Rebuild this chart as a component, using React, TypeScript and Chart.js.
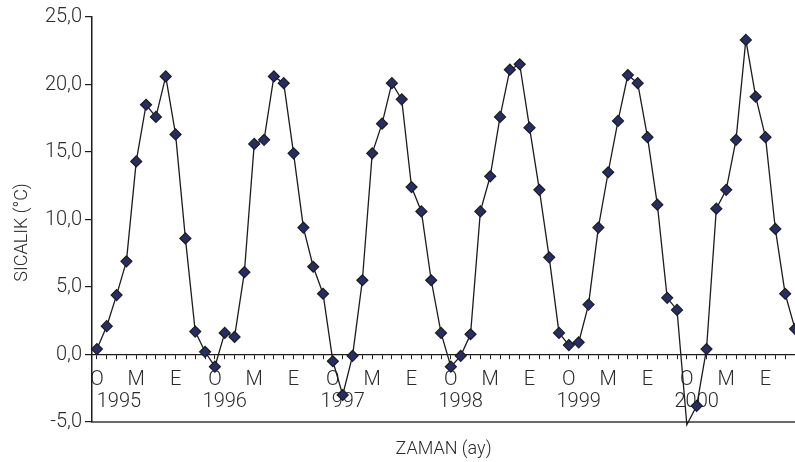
import { useEffect, useRef } from "react";
import { Chart, registerables } from "chart.js";

Chart.register(...registerables);

// Monthly mean temperatures (°C), January..December
const t1995 = [0.4, 2.1, 4.4, 6.9, 14.3, 18.5, 17.6, 20.6, 16.3, 8.6, 1.7, 0.2];
const t1996 = [-0.9, 1.6, 1.3, 6.1, 15.6, 15.9, 20.6, 20.1, 14.9, 9.4, 6.5, 4.5];
const t1997 = [-0.5, -3.0, -0.1, 5.5, 14.9, 17.1, 20.1, 18.9, 12.4, 10.6, 5.5, 1.6];
const t1998 = [-0.9, -0.1, 1.5, 10.6, 13.2, 17.6, 21.1, 21.5, 16.8, 12.2, 7.2, 1.6];
const t1999 = [0.7, 0.9, 3.7, 9.4, 13.5, 17.3, 20.7, 20.1, 16.1, 11.1, 4.2, 3.3];
const t2000 = [-5.2, -3.8, 0.4, 10.8, 12.2, 15.9, 23.3, 19.1, 16.1, 9.3, 4.5, 1.9];

const years = ["1995", "1996", "1997", "1998", "1999", "2000"];
const monthMarks = ["O", "", "", "", "M", "", "", "", "E", "", "", ""];
const yTicks = [-5, 0, 5, 10, 15, 20, 25];
const yTitle = "SICALIK (°C)";
const xTitle = "ZAMAN (ay)";

const temps = [...t1995, ...t1996, ...t1997, ...t1998, ...t1999, ...t2000];

const FONT = "Roboto";
const TEXT = "#2b2b2b";

export default function App() {
  const ref = useRef<HTMLCanvasElement | null>(null);

  useEffect(() => {
    if (!ref.current) return;
    const Y_MIN = yTicks[0];
    const Y_MAX = yTicks[yTicks.length - 1];
    const points = temps.map((v, i) => ({ x: i, y: v }));

    const yTitlePlugin = {
      id: "yTitlePlugin",
      afterDraw(chart: any) {
        const ctx = chart.ctx;
        const ca = chart.chartArea;
        ctx.save();
        ctx.translate(22, (ca.top + ca.bottom) / 2 + 13);
        ctx.rotate(-Math.PI / 2);
        ctx.font = `300 18px ${FONT}`;
        ctx.fillStyle = TEXT;
        ctx.textAlign = "center";
        ctx.textBaseline = "middle";
        ctx.fillText(yTitle, 0, 0);
        ctx.restore();
      },
    };

    const chart = new Chart(ref.current, {
      type: "line",
      data: {
        datasets: [
          {
            data: points,
            borderColor: "#1c1c1c",
            borderWidth: 1.3,
            tension: 0,
            clip: false as any,
            pointStyle: "rectRot",
            pointRadius: (c: any) => (c.raw && c.raw.y < Y_MIN ? 0 : 5.5),
            pointHoverRadius: 5.5,
            pointBackgroundColor: "#262d66",
            pointBorderColor: "#1c1c1c",
            pointBorderWidth: 1.2,
          },
        ],
      },
      options: {
        animation: false,
        responsive: false,
        devicePixelRatio: 1,
        layout: { autoPadding: false, padding: { top: 17, right: 0, left: 0, bottom: 0 } },
        plugins: {
          legend: { display: false },
          tooltip: { enabled: false },
          title: { display: false },
        },
        scales: {
          x: {
            type: "linear",
            position: "bottom",
            min: -0.5,
            max: temps.length - 1,
            ticks: { display: false },
            grid: { display: true, drawOnChartArea: false, drawTicks: false },
            border: { display: true, color: "#6a6a6a", width: 2 },
            title: {
              display: true,
              text: xTitle,
              color: TEXT,
              font: { family: FONT, size: 18, weight: "300" as any },
              padding: { top: 0, bottom: 2 },
            },
            afterFit: (s: any) => {
              s.height = 40;
            },
          },
          x2: {
            type: "linear",
            position: { y: 0 } as any,
            min: -0.5,
            max: temps.length - 1,
            afterBuildTicks: (s: any) => {
              s.ticks = temps.map((_, i) => ({ value: i }));
            },
            afterFit: (s: any) => {
              s.paddingLeft = 0;
              s.paddingRight = 0;
            },
            ticks: {
              autoSkip: false,
              maxRotation: 0,
              minRotation: 0,
              padding: 10,
              color: TEXT,
              font: { family: FONT, size: 20, weight: "300" as any, lineHeight: 1.12 },
              callback: (v: any) => {
                const i = Math.round(Number(v));
                const m = i % 12;
                const yr = Math.floor(i / 12);
                if (m === 1) {
                  const lbl = yr === 0 ? "     " + years[yr] : years[yr];
                  return ["", lbl];
                }
                return monthMarks[m];
              },
            },
            grid: {
              display: true,
              drawOnChartArea: false,
              drawTicks: true,
              tickLength: 4,
              color: "#1c1c1c",
              lineWidth: 1,
            },
            border: { display: true, color: "#1c1c1c", width: 1.2 },
          },
          y: {
            type: "linear",
            position: "left",
            min: Y_MIN,
            max: Y_MAX,
            afterBuildTicks: (s: any) => {
              s.ticks = yTicks.map((v) => ({ value: v }));
            },
            ticks: {
              padding: 3,
              color: TEXT,
              font: { family: FONT, size: 20, weight: "300" as any },
              callback: (v: any) => Number(v).toFixed(1).replace(".", ","),
            },
            grid: {
              display: true,
              drawOnChartArea: false,
              drawTicks: true,
              tickLength: 7,
              color: "#1c1c1c",
              lineWidth: 1.2,
            },
            border: { display: true, color: "#1c1c1c", width: 1.5 },
            afterFit: (s: any) => {
              s.width = 92;
            },
          },
        },
      },
      plugins: [yTitlePlugin],
    });

    return () => chart.destroy();
  }, []);

  return (
    <div style={{ position: "absolute", left: 0, top: 0, width: 795, height: 462 }}>
      <canvas ref={ref} width={795} height={462} style={{ display: "block", width: 795, height: 462 }} />
    </div>
  );
}
